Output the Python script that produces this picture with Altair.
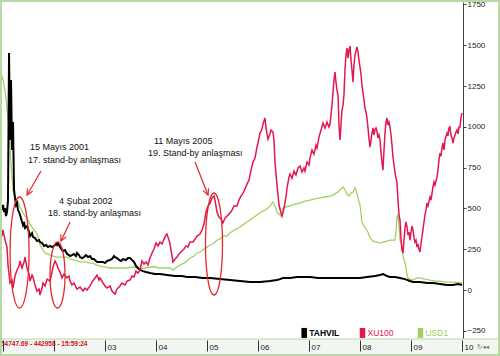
import altair as alt
import pandas as pd

# ---------------- data ----------------
xu100_year = [2000.980, 2001.000, 2001.039, 2001.078, 2001.098, 2001.137, 2001.176, 2001.196, 2001.235, 2001.275,
              2001.314, 2001.333, 2001.373, 2001.412, 2001.431, 2001.471, 2001.510, 2001.529, 2001.569, 2001.588,
              2001.627, 2001.667, 2001.706, 2001.725, 2001.765, 2001.784, 2001.824, 2001.863, 2001.922, 2001.961,
              2001.980, 2002.020, 2002.059, 2002.078, 2002.118, 2002.157, 2002.196, 2002.255, 2002.294, 2002.314,
              2002.353, 2002.392, 2002.451, 2002.510, 2002.569, 2002.608, 2002.647, 2002.706, 2002.745, 2002.804,
              2002.843, 2002.882, 2002.902, 2002.961, 2003.000, 2003.039, 2003.098, 2003.137, 2003.196, 2003.235,
              2003.294, 2003.333, 2003.392, 2003.431, 2003.490, 2003.529, 2003.569, 2003.608, 2003.647, 2003.686,
              2003.725, 2003.765, 2003.804, 2003.843, 2003.882, 2003.922, 2003.961, 2004.000, 2004.039, 2004.078,
              2004.118, 2004.157, 2004.196, 2004.216, 2004.255, 2004.275, 2004.314, 2004.333, 2004.373, 2004.412,
              2004.451, 2004.510, 2004.549, 2004.588, 2004.627, 2004.667, 2004.725, 2004.765, 2004.804, 2004.863,
              2004.902, 2004.941, 2004.980, 2005.020, 2005.059, 2005.098, 2005.137, 2005.157, 2005.196, 2005.235,
              2005.275, 2005.314, 2005.353, 2005.392, 2005.451, 2005.490, 2005.529, 2005.588, 2005.627, 2005.667,
              2005.706, 2005.745, 2005.784, 2005.824, 2005.863, 2005.902, 2005.941, 2005.980, 2006.000, 2006.039,
              2006.078, 2006.098, 2006.137, 2006.157, 2006.196, 2006.235, 2006.255, 2006.294, 2006.314, 2006.333,
              2006.373, 2006.412, 2006.451, 2006.471, 2006.510, 2006.549, 2006.569, 2006.608, 2006.627, 2006.667,
              2006.706, 2006.745, 2006.784, 2006.824, 2006.863, 2006.902, 2006.922, 2006.961, 2007.000, 2007.020,
              2007.059, 2007.098, 2007.137, 2007.157, 2007.196, 2007.235, 2007.275, 2007.314, 2007.353, 2007.392,
              2007.412, 2007.451, 2007.490, 2007.510, 2007.529, 2007.549, 2007.569, 2007.588, 2007.608, 2007.627,
              2007.647, 2007.667, 2007.686, 2007.706, 2007.725, 2007.745, 2007.765, 2007.784, 2007.804, 2007.824,
              2007.843, 2007.863, 2007.882, 2007.902, 2007.941, 2007.961, 2007.980, 2008.000, 2008.020, 2008.039,
              2008.059, 2008.078, 2008.098, 2008.118, 2008.137, 2008.157, 2008.176, 2008.196, 2008.216, 2008.235,
              2008.255, 2008.275, 2008.294, 2008.314, 2008.333, 2008.353, 2008.373, 2008.392, 2008.412, 2008.431,
              2008.451, 2008.471, 2008.490, 2008.510, 2008.529, 2008.549, 2008.569, 2008.588, 2008.608, 2008.627,
              2008.647, 2008.667, 2008.686, 2008.706, 2008.725, 2008.745, 2008.765, 2008.784, 2008.804, 2008.824,
              2008.843, 2008.863, 2008.882, 2008.902, 2008.922, 2008.941, 2008.961, 2008.980, 2009.000, 2009.020,
              2009.039, 2009.059, 2009.078, 2009.098, 2009.118, 2009.137, 2009.157, 2009.176, 2009.196, 2009.216,
              2009.235, 2009.255, 2009.275, 2009.294, 2009.314, 2009.333, 2009.373, 2009.392, 2009.431, 2009.451,
              2009.471, 2009.510, 2009.529, 2009.549, 2009.569, 2009.588, 2009.608, 2009.627, 2009.647, 2009.667,
              2009.706, 2009.725, 2009.745, 2009.765, 2009.784, 2009.804, 2009.824, 2009.843, 2009.863, 2009.882,
              2009.902, 2009.922, 2009.941, 2009.961, 2009.980, 2010.000]
xu100_value = [331, 368, 306, 263, 153, 43, 61, 12, 86, 123,
               147, 178, 135, 172, 202, 135, 98, 55, 92, 80,
               31, -6, 6, -31, 12, 43, 25, 67, 55, 110,
               141, 178, 153, 135, 110, 74, 98, 74, 86, 55,
               31, 43, 6, 18, -6, 12, 0, 25, 49, 74,
               92, 61, 74, 43, 25, 12, 25, -6, -25, 6,
               25, 43, 31, 55, 61, 86, 80, 116, 104, 123,
               178, 159, 172, 153, 196, 227, 251, 288, 270, 294,
               282, 312, 337, 343, 306, 282, 208, 172, 190, 202,
               221, 239, 251, 270, 263, 294, 294, 312, 331, 343,
               368, 404, 478, 515, 533, 564, 576, 551, 478, 447,
               435, 411, 441, 453, 472, 490, 515, 515, 551, 576,
               594, 619, 649, 674, 735, 784, 809, 876, 901, 962,
               986, 1017, 1054, 993, 925, 956, 980, 968, 919, 784,
               643, 521, 472, 453, 502, 570, 625, 692, 711, 686,
               729, 705, 748, 760, 723, 748, 729, 784, 766, 809,
               858, 833, 888, 870, 937, 980, 1023, 993, 1029, 999,
               1017, 1133, 1287, 1336, 1274, 1225, 1195, 1011, 919, 1011,
               1103, 1133, 1195, 1348, 1440, 1483, 1421, 1470, 1495, 1409,
               1348, 1274, 1379, 1440, 1489, 1458, 1409, 1366, 1323, 1256,
               1207, 1164, 1115, 1091, 1054, 993, 931, 876, 919, 962,
               993, 950, 980, 993, 974, 931, 950, 919, 846, 784,
               735, 858, 962, 1029, 1054, 1011, 1029, 999, 950, 888,
               815, 766, 723, 686, 662, 551, 460, 429, 319, 245,
               227, 306, 380, 417, 386, 337, 355, 306, 355, 392,
               368, 319, 294, 306, 263, 282, 251, 233, 282, 331,
               368, 417, 460, 490, 533, 515, 570, 551, 631, 662,
               643, 692, 735, 797, 839, 821, 870, 901, 858, 919,
               962, 944, 993, 999, 950, 931, 901, 931, 950, 968,
               980, 956, 999, 999, 1054, 1084]

tahvil_year = [2000.980, 2001.000, 2001.020, 2001.039, 2001.059, 2001.078, 2001.098, 2001.118, 2001.137, 2001.157,
               2001.176, 2001.196, 2001.216, 2001.235, 2001.255, 2001.275, 2001.294, 2001.314, 2001.333, 2001.353,
               2001.373, 2001.392, 2001.412, 2001.431, 2001.471, 2001.510, 2001.529, 2001.569, 2001.588, 2001.627,
               2001.667, 2001.706, 2001.725, 2001.765, 2001.804, 2001.843, 2001.882, 2001.922, 2001.961, 2002.000,
               2002.039, 2002.059, 2002.078, 2002.118, 2002.157, 2002.176, 2002.216, 2002.255, 2002.294, 2002.314,
               2002.353, 2002.392, 2002.431, 2002.451, 2002.490, 2002.510, 2002.549, 2002.588, 2002.627, 2002.667,
               2002.706, 2002.745, 2002.784, 2002.843, 2002.902, 2002.961, 2003.000, 2003.039, 2003.098, 2003.137,
               2003.176, 2003.196, 2003.235, 2003.275, 2003.314, 2003.353, 2003.412, 2003.451, 2003.490, 2003.529,
               2003.569, 2003.608, 2003.647, 2003.686, 2003.745, 2003.804, 2003.882, 2003.980, 2004.078, 2004.216,
               2004.373, 2004.510, 2004.608, 2004.765, 2004.922, 2005.059, 2005.255, 2005.451, 2005.647, 2005.843,
               2006.039, 2006.235, 2006.373, 2006.431, 2006.490, 2006.627, 2006.765, 2006.882, 2007.020, 2007.176,
               2007.314, 2007.471, 2007.608, 2007.745, 2007.902, 2008.000, 2008.137, 2008.294, 2008.392, 2008.451,
               2008.529, 2008.588, 2008.686, 2008.784, 2008.882, 2008.980, 2009.039, 2009.176, 2009.314, 2009.431,
               2009.569, 2009.706, 2009.824, 2009.922, 2010.000]
tahvil_value = [490, 521, 478, 502, 453, 478, 551, 1452, 919, 1287,
                858, 1029, 613, 564, 521, 533, 490, 478, 460, 441,
                417, 398, 417, 380, 392, 355, 331, 349, 325, 319,
                300, 306, 294, 288, 270, 276, 263, 270, 263, 270,
                282, 276, 288, 263, 245, 239, 245, 221, 214, 208,
                214, 221, 208, 227, 214, 202, 196, 202, 214, 202,
                208, 190, 190, 172, 172, 172, 165, 178, 184, 190,
                208, 202, 196, 184, 178, 190, 184, 196, 196, 184,
                172, 147, 135, 123, 116, 110, 104, 98, 98, 92,
                86, 86, 80, 80, 74, 74, 67, 61, 55, 49,
                49, 55, 61, 67, 74, 74, 80, 80, 80, 74,
                74, 74, 74, 74, 74, 74, 80, 86, 92, 98,
                86, 80, 80, 74, 67, 55, 49, 49, 43, 43,
                37, 31, 31, 37, 31]

usd_year = [2000.980, 2001.020, 2001.059, 2001.078, 2001.118, 2001.157, 2001.196, 2001.235, 2001.275, 2001.314,
            2001.333, 2001.373, 2001.392, 2001.431, 2001.471, 2001.490, 2001.529, 2001.569, 2001.608, 2001.647,
            2001.667, 2001.706, 2001.725, 2001.765, 2001.804, 2001.863, 2001.922, 2001.980, 2002.059, 2002.118,
            2002.196, 2002.255, 2002.314, 2002.392, 2002.451, 2002.510, 2002.608, 2002.706, 2002.765, 2002.843,
            2002.902, 2003.000, 2003.098, 2003.196, 2003.294, 2003.431, 2003.549, 2003.686, 2003.784, 2003.882,
            2003.980, 2004.078, 2004.176, 2004.275, 2004.333, 2004.412, 2004.471, 2004.549, 2004.608, 2004.667,
            2004.745, 2004.804, 2004.863, 2004.941, 2005.000, 2005.059, 2005.118, 2005.196, 2005.255, 2005.333,
            2005.392, 2005.451, 2005.529, 2005.588, 2005.647, 2005.725, 2005.784, 2005.843, 2005.922, 2005.980,
            2006.059, 2006.137, 2006.196, 2006.235, 2006.275, 2006.294, 2006.333, 2006.373, 2006.412, 2006.451,
            2006.471, 2006.490, 2006.549, 2006.627, 2006.725, 2006.824, 2006.922, 2007.020, 2007.118, 2007.216,
            2007.314, 2007.412, 2007.471, 2007.529, 2007.569, 2007.608, 2007.647, 2007.667, 2007.706, 2007.745,
            2007.784, 2007.824, 2007.863, 2007.902, 2007.922, 2007.961, 2008.000, 2008.039, 2008.078, 2008.118,
            2008.157, 2008.196, 2008.255, 2008.333, 2008.392, 2008.451, 2008.529, 2008.588, 2008.647, 2008.686,
            2008.706, 2008.725, 2008.745, 2008.765, 2008.784, 2008.824, 2008.843, 2008.863, 2008.882, 2008.902,
            2008.922, 2008.941, 2008.980, 2009.039, 2009.118, 2009.176, 2009.275, 2009.373, 2009.471, 2009.569,
            2009.667, 2009.765, 2009.863, 2009.961, 2010.000]
usd_value = [1317, 1256, 1176, 1115, 980, 766, 613, 564, 551, 527,
             509, 484, 472, 453, 441, 429, 404, 386, 368, 355,
             343, 306, 276, 257, 233, 221, 214, 208, 202, 202,
             202, 202, 190, 184, 178, 172, 172, 165, 165, 153,
             147, 141, 135, 135, 135, 135, 141, 129, 135, 141,
             141, 135, 135, 135, 123, 141, 153, 165, 178, 196,
             208, 227, 233, 251, 263, 276, 282, 306, 312, 331,
             331, 349, 368, 374, 386, 404, 417, 429, 447, 460,
             478, 490, 502, 515, 533, 539, 515, 478, 466, 453,
             460, 502, 509, 515, 527, 533, 545, 551, 558, 564,
             570, 576, 582, 594, 600, 613, 625, 631, 613, 588,
             576, 594, 600, 625, 613, 564, 521, 417, 392, 374,
             355, 319, 300, 294, 288, 294, 300, 306, 306, 306,
             355, 447, 460, 398, 306, 263, 214, 184, 172, 135,
             92, 74, 67, 61, 74, 74, 67, 61, 55, 55,
             49, 49, 49, 43, 43]

y_ticks = [-250, 0, 250, 500, 750, 1000, 1250, 1500, 1750]
x_ticks = [2001, 2002, 2003, 2004, 2005, 2006, 2007, 2008, 2009, 2010]

note_text = ["15 Mayıs 2001", "17. stand-by anlaşması", "4 Şubat 2002",
             "18. stand-by anlaşması", "11 Mayıs 2005", "19. Stand-by anlaşması"]
note_year = [2001.529, 2001.490, 2002.098, 2001.882, 2003.961, 2003.843]
note_value = [876, 797, 545, 475, 913, 839]

arrow_from_year = [2001.745, 2002.314, 2004.765]
arrow_from_value = [729, 417, 784]
arrow_to_year = [2001.471, 2002.137, 2005.020]
arrow_to_value = [582, 300, 582]

ring_year = [2001.324, 2002.069, 2005.137]
ring_value = [230, 92, 282]

legend_names = ["TAHVIL", "XU100", "USD1"]
legend_year = [2006.906, 2008.049, 2009.186]
legend_value = [-263, -263, -263]

ticker_text = "54747.69 - 442958 - 15:59:24"

# ---------------- styling ----------------
RED = "#e4164e"
GREEN = "#a2d064"
BLACK = "#000000"
NOTE_RED = "#e5262b"
FONT = "Liberation Sans"

xs = alt.Scale(domain=[2000.98, 2010.02], nice=False, zero=False)
ys = alt.Scale(domain=[-294, 1765], nice=False, zero=False)

x_axis = alt.Axis(values=x_ticks, title=None, grid=False, domain=False, tickSize=11, offset=2,
                  tickColor="#333333", labelAlign="left", labelBaseline="middle", labelOffset=2,
                  labelPadding=-4, labelFontSize=8, labelFont=FONT, labelColor="#222222", zindex=1,
                  labelExpr="datum.value < 2003 ? '' : (datum.value < 2010 ? '0' + (datum.value - 2000) : '10')")
y_axis = alt.Axis(values=y_ticks, orient="right", title=None, grid=False, tickSize=3,
                  tickColor="#444444", domainColor="#444444", labelPadding=1, labelFontSize=8,
                  labelFont=FONT, labelColor="#222222", format="d", zindex=1)


def X(field):
    return alt.X(field, type="quantitative", scale=xs, axis=x_axis)


def Y(field):
    return alt.Y(field, type="quantitative", scale=ys, axis=y_axis)


def series_df(years, values):
    return pd.DataFrame({"t": years, "v": values, "i": list(range(len(years)))})


def line_layer(df, color, width):
    return alt.Chart(df).mark_line(color=color, strokeWidth=width, interpolate="linear").encode(
        x=X("t"), y=Y("v"), order="i:Q")


one = pd.DataFrame({"k": [0]})

strip = alt.Chart(one).mark_rect(fill="#f3f5f0", stroke="#b7d9a2", strokeWidth=1).encode(
    x=alt.value(-2), x2=alt.value(498), y=alt.value(337), y2=alt.value(354))

green = line_layer(series_df(usd_year, usd_value), GREEN, 1.3)
black = line_layer(series_df(tahvil_year, tahvil_value), BLACK, 2.0)
red = line_layer(series_df(xu100_year, xu100_value), RED, 1.5)

# red ellipses around the stand-by dates
K = 0.5523
def ellipse_path(a):
    return (f"M {a} 0 C {a} {K} {a*K:.4f} 1 0 1 C {-a*K:.4f} 1 {-a} {K} {-a} 0 "
            f"C {-a} {-K} {-a*K:.4f} -1 0 -1 C {a*K:.4f} -1 {a} {-K} {a} 0 Z")

ring_df = pd.DataFrame({"t": ring_year, "v": ring_value,
                        "shape": [ellipse_path(0.171), ellipse_path(0.227), ellipse_path(0.167)],
                        "size": [111 ** 2, 66 ** 2, 102 ** 2]})
rings = alt.Chart(ring_df).mark_point(filled=False, color=NOTE_RED, strokeWidth=1.3, opacity=1).encode(
    x=X("t"), y=Y("v"),
    shape=alt.Shape("shape:N", scale=None), size=alt.Size("size:Q", scale=None))

arrow_df = pd.DataFrame({"t": arrow_from_year, "v": arrow_from_value,
                         "t2": arrow_to_year, "v2": arrow_to_value,
                         "ang": [30, 25, 338]})
arrow_lines = alt.Chart(arrow_df).mark_rule(color=NOTE_RED, strokeWidth=1.2).encode(
    x=X("t"), y=Y("v"), x2="t2:Q", y2="v2:Q")
arrow_heads = alt.Chart(arrow_df).mark_point(
    shape="M -0.5 -1 L 0 0 L 0.5 -1", size=144, filled=False, color=NOTE_RED,
    strokeWidth=1.2, opacity=1).encode(
    x=X("t2"), y=Y("v2"), angle=alt.Angle("ang:Q", scale=None))

note_df = pd.DataFrame({"t": note_year, "v": note_value, "txt": note_text})
notes = alt.Chart(note_df).mark_text(align="left", baseline="middle", font=FONT, fontSize=9,
                                     color="#111111").encode(
    x=X("t"), y=Y("v"), text="txt:N")

leg_df = pd.DataFrame({"t": legend_year, "v": legend_value, "name": legend_names,
                       "col": [BLACK, RED, GREEN]})
leg_marks = alt.Chart(leg_df).mark_point(
    shape="M -0.55 -1 L 0.55 -1 L 0.55 1 L -0.55 1 Z", size=100, filled=True, opacity=1).encode(
    x=X("t"), y=Y("v"), color=alt.Color("col:N", scale=None))
leg_text_bold = alt.Chart(leg_df).transform_filter("datum.name == 'TAHVIL'").mark_text(
    align="left", baseline="middle", dx=5, font=FONT, fontSize=8.5, fontWeight="bold").encode(
    x=X("t"), y=Y("v"), text="name:N", color=alt.Color("col:N", scale=None))
leg_text = alt.Chart(leg_df).transform_filter("datum.name != 'TAHVIL'").mark_text(
    align="left", baseline="middle", dx=5, font=FONT, fontSize=8.5).encode(
    x=X("t"), y=Y("v"), text="name:N", color=alt.Color("col:N", scale=None))

ticker = alt.Chart(pd.DataFrame({"txt": [ticker_text]})).mark_text(
    align="left", baseline="middle", font=FONT, fontSize=6.5, fontWeight="bold", color="#d0102a").encode(
    x=alt.value(-1), y=alt.value(342), text="txt:N")

icon = alt.Chart(pd.DataFrame({"txt": ["↻◂◂"]})).mark_text(
    align="left", baseline="middle", font="DejaVu Sans", fontSize=6.5, color="#4a8f3a").encode(
    x=alt.value(475), y=alt.value(345), text="txt:N")

frame = alt.Chart(one).mark_rect(fillOpacity=0, stroke="#b7d9a2", strokeWidth=2).encode(
    x=alt.value(-1), x2=alt.value(497), y=alt.value(-1), y2=alt.value(353))

chart = alt.layer(
    strip, green, black, red, rings, arrow_lines, arrow_heads, notes,
    leg_marks, leg_text_bold, leg_text, ticker, icon, frame
).properties(
    width=461, height=336,
    padding={"left": 2, "top": 2, "right": 37, "bottom": 18},
    autosize=alt.AutoSizeParams(type="none"),
    background="white",
).configure_view(strokeWidth=0)

chart.save("out.html", embed_options={"renderer": "svg", "actions": False})
